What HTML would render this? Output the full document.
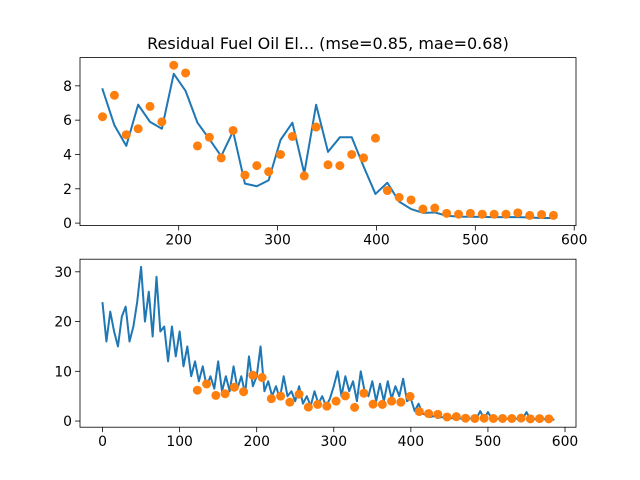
<!DOCTYPE html>
<html><head><meta charset="utf-8"><style>
html,body{margin:0;padding:0;background:#fff}
svg{display:block;font-family:"DejaVu Sans","Liberation Sans",sans-serif}
</style></head><body>
<svg id="fig" width="640" height="480" viewBox="0 0 640 480">
<rect width="640" height="480" fill="#fff"/>
<text x="328" y="49" font-size="16" text-anchor="middle" fill="#000">Residual Fuel Oil El... (mse=0.85, mae=0.68)</text>
<g id="top"></g>
<g id="bot"></g>
</svg>
<script>
const pointX = [123,135,147,159,171,183,195,207,219,231,243,255,267,279,291,303,315,327,339,351,363,375,387,399,411,423,435,447,459,471,483,495,507,519,531,543,555,567,579];
const actualY = [6.2,7.45,5.15,5.5,6.8,5.9,9.2,8.75,4.5,5.0,3.8,5.4,2.8,3.35,3.0,4.0,5.05,2.75,5.6,3.4,3.35,4.0,3.8,4.95,1.9,1.5,1.35,0.82,0.88,0.57,0.52,0.57,0.52,0.52,0.52,0.6,0.45,0.5,0.45];
const predictedY = [7.8,5.7,4.5,6.9,5.9,5.5,8.7,7.7,5.85,4.9,3.9,5.35,2.3,2.15,2.5,4.85,5.85,2.9,6.9,4.15,5.0,5.0,3.3,1.7,2.35,1.25,0.82,0.6,0.62,0.43,0.38,0.37,0.36,0.35,0.35,0.35,0.33,0.3,0.3];
const historyStep = 5;
const historyY = [23.7,16,22,18,15,21,23,16,19,24,
31,20,26,17,29,18,19,12,19,13,
18,11,15,9,12,8,11,7,9,6.5,
12,6,9,6,11,6.5,9,5.5,13,7,
9,15,6,8,5,7,4.5,9,5,6,
4,7,3.5,5,3,6,3.5,5,3,4.5,
7,10,5,9,6,8,4,10,6,5,
8,4,7.5,4,8,4.5,7,5,8.5,4,
4.5,2,3.5,1.5,1.2,0.8,1,0.6,0.8,0.6,
0.7,0.5,0.6,0.5,0.5,0.6,0.4,0.5,2,0.5,
1.8,0.5,0.4,0.5,0.4,0.5,0.4,0.5,0.4,0.5,
1.8,0.4,0.4,0.4,0.4,0.4,0.4,0.3];
const topXTicks = [200,300,400,500,600];
const topYTicks = [0,2,4,6,8];
const botXTicks = [0,100,200,300,400,500,600];
const botYTicks = [0,10,20,30];

const NS = "http://www.w3.org/2000/svg";
function mk(parent, tag, attrs){
  const e = document.createElementNS(NS, tag);
  for (const k in attrs) e.setAttribute(k, attrs[k]);
  parent.appendChild(e);
  return e;
}
function lim(arr){
  const mn = Math.min(...arr), mx = Math.max(...arr), m = (mx-mn)*0.05;
  return [mn-m, mx+m];
}
function drawAxes(g, box, xs, ys, xTicks, yTicks, lines, dots, prefix){
  const [x0,x1] = lim(xs), [y0,y1] = lim(ys);
  const sx = v => box.l + (v-x0)/(x1-x0)*(box.r-box.l);
  const sy = v => box.b - (v-y0)/(y1-y0)*(box.b-box.t);
  xTicks.forEach(t => {
    const X = sx(t);
    const tk = mk(g,'line',{x1:X,x2:X,y1:box.b,y2:box.b+4.9,stroke:'#000','stroke-width':0.8});
    
    
    const tx = mk(g,'text',{x:X,y:box.b+19,'font-size':13.9,'text-anchor':'middle',fill:'#000'});
    tx.textContent = t;
    
    
  });
  yTicks.forEach(t => {
    const Y = sy(t);
    const tk = mk(g,'line',{x1:box.l-4.9,x2:box.l,y1:Y,y2:Y,stroke:'#000','stroke-width':0.8});
    
    
    const tx = mk(g,'text',{x:box.l-8,y:Y+5,'font-size':13.9,'text-anchor':'end',fill:'#000'});
    tx.textContent = t;
    
    
  });
  lines.forEach(([lx,ly]) => {
    const d = lx.map((v,i)=>(i?'L':'M')+sx(v).toFixed(2)+','+sy(ly[i]).toFixed(2)).join('');
    const p = mk(g,'path',{d:d,fill:'none',stroke:'#1f77b4','stroke-width':2,'stroke-linejoin':'round','stroke-linecap':'square'});
    
    
  });
  dots.forEach(([dx,dy]) => {
    dx.forEach((v,i) => {
      const c = mk(g,'circle',{cx:sx(v),cy:sy(dy[i]),r:4.5,fill:'#ff7f0e'});
      
      
    });
  });
  const fr = mk(g,'rect',{x:box.l,y:box.t,width:box.r-box.l,height:box.b-box.t,fill:'none',stroke:'#000','stroke-width':0.8});
  
  
}
const histX = historyY.map((_,i)=>i*historyStep);
drawAxes(document.getElementById('top'), {l:80,r:576,t:57.6,b:225.6},
  pointX, actualY.concat(predictedY), topXTicks, topYTicks,
  [[pointX,predictedY]], [[pointX,actualY]], 'top');
drawAxes(document.getElementById('bot'), {l:80,r:576,t:259.2,b:427.2},
  histX, historyY.concat(actualY), botXTicks, botYTicks,
  [[histX,historyY]], [[pointX,actualY]], 'bottom');
</script>
</body></html>
